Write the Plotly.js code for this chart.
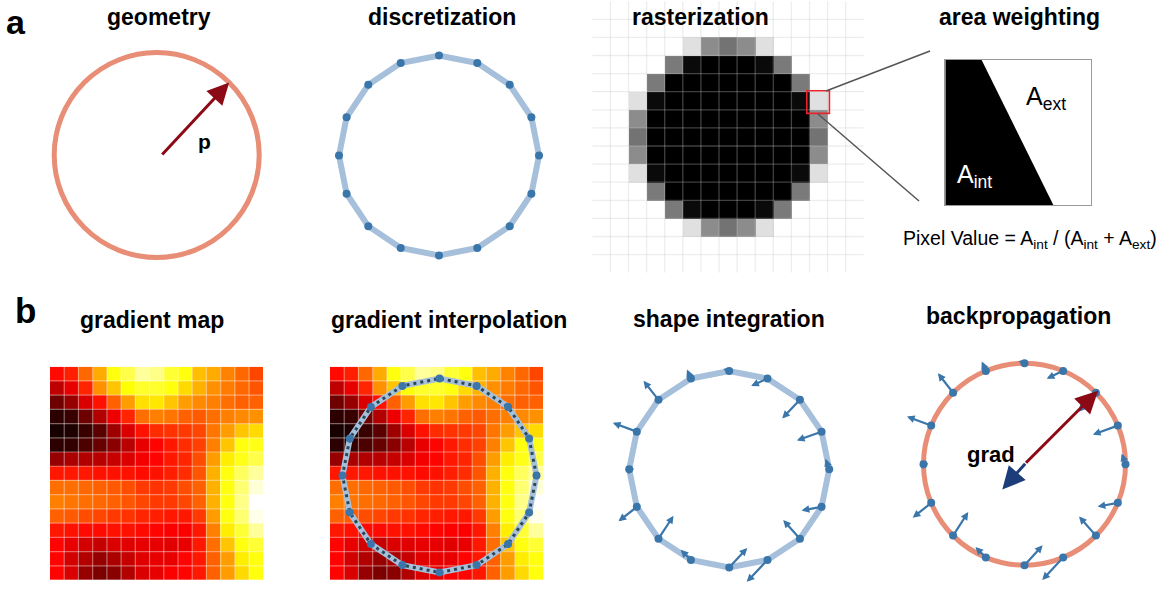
<!DOCTYPE html>
<html><head><meta charset="utf-8">
<script src="https://cdn.plot.ly/plotly-3.0.1.min.js"></script>
<style>html,body{margin:0;padding:0;background:#fff}#chart{width:1169px;height:592px}</style>
</head><body><div id="chart"></div>
<script>
// ---------------- data ----------------
const vertexAngles = [0, 22.5, 45, 67.5, 90, 112.5, 135, 157.5, 180, 202.5, 225, 247.5, 270, 292.5, 315, 337.5];
// per-vertex gradient vectors (in units of the shape radius)
const gradDX = [-0.037, -0.247, -0.177, -0.163, -0.06, -0.04, -0.15, -0.24, -0.033, -0.183, 0.15, -0.103, 0.18, -0.207, -0.167, -0.2];
const gradDY = [0.107, -0.09, -0.19, -0.077, 0.023, 0.093, 0.193, 0.09, 0.033, -0.147, 0.233, 0.103, 0.197, -0.223, 0.19, -0.037];
const paramAngle = 45;      // direction of the radius parameter p
const paramLength = 1.0;
const gradParamX = -0.22, gradParamY = -0.25;   // resulting gradient on p

// pixel coverage of the rasterized disc (0 = empty, 1 = fully covered)
const rasterCoverage = [
  [0,0,0,0,0,0,0,0,0,0,0,0,0,0,0],
  [0,0,0,0,0,0,0,0,0,0,0,0,0,0,0],
  [0,0,0,0,0,0.12,0.45,0.55,0.45,0.12,0,0,0,0,0],
  [0,0,0,0,0.52,0.96,1,1,1,0.96,0.52,0,0,0,0],
  [0,0,0,0.52,1,1,1,1,1,1,1,0.52,0,0,0],
  [0,0,0.12,0.96,1,1,1,1,1,1,1,0.96,0.12,0,0],
  [0,0,0.45,1,1,1,1,1,1,1,1,1,0.45,0,0],
  [0,0,0.55,1,1,1,1,1,1,1,1,1,0.55,0,0],
  [0,0,0.45,1,1,1,1,1,1,1,1,1,0.45,0,0],
  [0,0,0.12,0.96,1,1,1,1,1,1,1,0.96,0.12,0,0],
  [0,0,0,0.52,1,1,1,1,1,1,1,0.52,0,0,0],
  [0,0,0,0,0.52,0.96,1,1,1,0.96,0.52,0,0,0,0],
  [0,0,0,0,0,0.12,0.45,0.55,0.45,0.12,0,0,0,0,0],
  [0,0,0,0,0,0,0,0,0,0,0,0,0,0,0],
  [0,0,0,0,0,0,0,0,0,0,0,0,0,0,0]
];
const highlightRow = 5, highlightCol = 12;

// gradient map values (hot colormap, 0..1)
const gradientMap = [
  [0.38,0.41,0.52,0.62,0.76,0.82,0.90,0.88,0.80,0.76,0.65,0.62,0.56,0.52,0.47],
  [0.27,0.33,0.42,0.58,0.66,0.75,0.79,0.79,0.76,0.69,0.63,0.58,0.55,0.52,0.49],
  [0.15,0.21,0.31,0.39,0.51,0.60,0.70,0.71,0.66,0.60,0.57,0.555,0.53,0.51,0.51],
  [0.05,0.07,0.15,0.25,0.34,0.42,0.53,0.555,0.54,0.51,0.50,0.53,0.555,0.57,0.58],
  [0.02,0.03,0.07,0.12,0.22,0.31,0.39,0.43,0.44,0.45,0.47,0.54,0.60,0.66,0.69],
  [0.05,0.06,0.10,0.14,0.19,0.26,0.33,0.37,0.40,0.43,0.46,0.555,0.66,0.76,0.77],
  [0.21,0.24,0.25,0.26,0.28,0.31,0.35,0.37,0.40,0.42,0.48,0.60,0.72,0.77,0.82],
  [0.40,0.40,0.40,0.39,0.39,0.39,0.38,0.39,0.41,0.43,0.49,0.63,0.76,0.84,0.90],
  [0.53,0.53,0.52,0.51,0.50,0.48,0.45,0.44,0.45,0.48,0.51,0.63,0.76,0.86,0.96],
  [0.555,0.54,0.53,0.52,0.51,0.49,0.47,0.45,0.45,0.47,0.51,0.63,0.76,0.88,1.0],
  [0.51,0.50,0.48,0.47,0.45,0.44,0.42,0.41,0.40,0.40,0.45,0.60,0.76,0.86,0.98],
  [0.40,0.39,0.38,0.38,0.39,0.39,0.38,0.37,0.36,0.36,0.40,0.555,0.72,0.80,0.90],
  [0.37,0.33,0.30,0.28,0.31,0.32,0.33,0.33,0.32,0.33,0.40,0.53,0.66,0.76,0.80],
  [0.37,0.30,0.25,0.21,0.24,0.28,0.32,0.33,0.33,0.37,0.40,0.51,0.60,0.72,0.76],
  [0.37,0.31,0.21,0.17,0.19,0.25,0.31,0.33,0.36,0.37,0.40,0.51,0.60,0.69,0.76]
];

// area-weighting pixel: interior polygon (fraction of pixel)
const areaPolyX = [0, 0.25, 0.743, 0];
const areaPolyY = [1, 1, 0, 0];

const panelTitles = ['geometry', 'discretization', 'rasterization', 'area weighting',
                     'gradient map', 'gradient interpolation', 'shape integration', 'backpropagation'];

// ---------------- layout helpers ----------------
const W = 1169, H = 592;
const xdom = (a, b) => [a / W, b / W];
const ydom = (a, b) => [1 - b / H, 1 - a / H];
const px = x => x / W, py = y => 1 - y / H;
const FONT = 'Liberation Sans, Arial, Helvetica, sans-serif';

const salmon = 'rgb(232,142,118)';
const polyLine = 'rgb(166,191,219)';
const vertexBlue = 'rgb(58,118,170)';
const darkRed = 'rgb(139,10,22)';
const navy = 'rgb(28,61,122)';

const P = {
  geom:   {cx: 156.7, cy: 155,   R: 102.5, k: 1.25},
  disc:   {cx: 439,   cy: 155.5, R: 100,   k: 1.25},
  interp: {cx: 439.5, cy: 475.5, R: 97,    k: 1.1},
  shape:  {cx: 729.2, cy: 471.5, R: 100,   k: 1.25},
  back:   {cx: 1024.5,cy: 464.2, R: 101,   k: 1.25}
};
function circAxes(p) {
  return [
    {domain: xdom(p.cx - p.k * p.R, p.cx + p.k * p.R), range: [-p.k, p.k]},
    {domain: ydom(p.cy - p.k * p.R, p.cy + p.k * p.R), range: [-p.k, p.k]}
  ];
}
const hidden = {visible: false, fixedrange: true, showgrid: false, zeroline: false};

const rad = a => a * Math.PI / 180;
const vx = vertexAngles.map(a => Math.cos(rad(a)));
const vy = vertexAngles.map(a => Math.sin(rad(a)));
const cx = vx.concat([vx[0]]), cy = vy.concat([vy[0]]);

const hotScale = [[0, 'rgb(10,0,0)'], [0.365, 'rgb(255,0,0)'], [0.746, 'rgb(255,255,0)'], [1, 'rgb(255,255,255)']];

function gridLines(nRows, nCols) {
  const gx = [], gy = [];
  for (let i = 0; i < nCols - 1; i++) { gx.push(i + 0.5, i + 0.5, null); gy.push(-0.5, nRows - 0.5, null); }
  for (let j = 0; j < nRows - 1; j++) { gx.push(-0.5, nCols - 0.5, null); gy.push(j + 0.5, j + 0.5, null); }
  return [gx, gy];
}

const traces = [];
// discretization
traces.push({type: 'scatter', mode: 'lines', x: cx, y: cy, xaxis: 'x2', yaxis: 'y2',
  line: {color: polyLine, width: 6}, hoverinfo: 'skip'});
traces.push({type: 'scatter', mode: 'markers', x: vx, y: vy, xaxis: 'x2', yaxis: 'y2',
  marker: {color: vertexBlue, size: 8}, hoverinfo: 'skip'});
// rasterization
const nR = rasterCoverage.length, nC = rasterCoverage[0].length;
traces.push({type: 'heatmap', z: rasterCoverage, xaxis: 'x3', yaxis: 'y3',
  colorscale: [[0, '#ffffff'], [1, '#000000']], zmin: 0, zmax: 1, showscale: false, hoverinfo: 'skip'});
const rg = gridLines(nR, nC);
traces.push({type: 'scatter', mode: 'lines', x: rg[0], y: rg[1], xaxis: 'x3', yaxis: 'y3',
  line: {color: 'rgba(200,200,200,0.32)', width: 1.3}, hoverinfo: 'skip', connectgaps: false});
// area weighting
traces.push({type: 'scatter', mode: 'lines', x: areaPolyX, y: areaPolyY, xaxis: 'x4', yaxis: 'y4',
  fill: 'toself', fillcolor: '#000', line: {width: 0, color: '#000'}, hoverinfo: 'skip'});
// gradient map
const gm = gridLines(gradientMap.length, gradientMap[0].length);
traces.push({type: 'heatmap', z: gradientMap, xaxis: 'x5', yaxis: 'y5', colorscale: hotScale,
  zmin: 0, zmax: 1, showscale: false, hoverinfo: 'skip'});
traces.push({type: 'scatter', mode: 'lines', x: gm[0], y: gm[1], xaxis: 'x5', yaxis: 'y5',
  line: {color: 'rgba(255,255,255,0.4)', width: 1.2}, hoverinfo: 'skip'});
// gradient interpolation
traces.push({type: 'heatmap', z: gradientMap, xaxis: 'x6', yaxis: 'y6', colorscale: hotScale,
  zmin: 0, zmax: 1, showscale: false, hoverinfo: 'skip'});
traces.push({type: 'scatter', mode: 'lines', x: gm[0], y: gm[1], xaxis: 'x6', yaxis: 'y6',
  line: {color: 'rgba(255,255,255,0.4)', width: 1.2}, hoverinfo: 'skip'});
traces.push({type: 'scatter', mode: 'lines', x: cx, y: cy, xaxis: 'x7', yaxis: 'y7',
  line: {color: polyLine, width: 6}, hoverinfo: 'skip'});
traces.push({type: 'scatter', mode: 'lines', x: cx, y: cy, xaxis: 'x7', yaxis: 'y7',
  line: {color: 'rgb(40,72,84)', width: 3, dash: '3px,4px'}, hoverinfo: 'skip'});
traces.push({type: 'scatter', mode: 'markers', x: vx, y: vy, xaxis: 'x7', yaxis: 'y7',
  marker: {color: vertexBlue, size: 8}, hoverinfo: 'skip'});
// shape integration
traces.push({type: 'scatter', mode: 'lines', x: cx, y: cy, xaxis: 'x8', yaxis: 'y8',
  line: {color: polyLine, width: 6}, hoverinfo: 'skip'});
traces.push({type: 'scatter', mode: 'markers', x: vx, y: vy, xaxis: 'x8', yaxis: 'y8',
  marker: {color: vertexBlue, size: 8}, hoverinfo: 'skip'});
// backpropagation
traces.push({type: 'scatter', mode: 'markers', x: vx, y: vy, xaxis: 'x9', yaxis: 'y9',
  marker: {color: vertexBlue, size: 8}, hoverinfo: 'skip'});

// ---------------- annotations ----------------
const ann = [];
const titlePos = [[158.7, 17], [442, 17], [700.8, 17], [1020, 17],
                  [152, 319.5], [448.6, 319.5], [728.7, 318.7], [1018, 315.7]];
panelTitles.forEach((t, i) => ann.push({xref: 'paper', yref: 'paper', x: px(titlePos[i][0]), y: py(titlePos[i][1]),
  xanchor: 'center', yanchor: 'middle', showarrow: false, text: '<b>' + t + '</b>',
  font: {family: FONT, size: 23, color: '#000'}}));
ann.push({xref: 'paper', yref: 'paper', x: px(16), y: py(1), xanchor: 'center', yanchor: 'top',
  showarrow: false, text: '<b>a</b>', font: {family: FONT, size: 34, color: '#000'}});
ann.push({xref: 'paper', yref: 'paper', x: px(25), y: py(310), xanchor: 'center', yanchor: 'middle',
  showarrow: false, text: '<b>b</b>', font: {family: FONT, size: 35, color: '#000'}});

function arrow(axis, x0, y0, x1, y1, color, w, s) {
  return {xref: 'x' + axis, yref: 'y' + axis, axref: 'x' + axis, ayref: 'y' + axis,
    x: x1, y: y1, ax: x0, ay: y0, text: '', showarrow: true, arrowhead: 2,
    arrowsize: s, arrowwidth: w, arrowcolor: color, standoff: 0, startstandoff: 0};
}
// geometry parameter p
const pTipX = paramLength * Math.cos(rad(paramAngle)), pTipY = paramLength * Math.sin(rad(paramAngle));
ann.push(arrow('', 0.04, -0.01, pTipX, pTipY, darkRed, 3, 1.45));
ann.push({xref: 'x', yref: 'y', x: 0.47, y: 0.13, showarrow: false, text: '<b>p</b>',
  font: {family: FONT, size: 21, color: '#000'}});
// gradient vectors on the vertices
['8', '9'].forEach(a => {
  vx.forEach((x, i) => ann.push(arrow(a, x, vy[i], x + gradDX[i], vy[i] + gradDY[i], vertexBlue, 2.2, 0.7)));
});
// backprop gradient on p
ann.push(arrow('9', 0, 0, 1.03 * pTipX, 1.03 * pTipY, darkRed, 3, 1.5));
ann.push(arrow('9', 0.02, 0.02, gradParamX, gradParamY, navy, 3, 1.5));
ann.push({xref: 'x9', yref: 'y9', x: -0.33, y: 0.1, showarrow: false, text: '<b>grad</b>',
  font: {family: FONT, size: 22, color: '#000'}});
// area weighting labels
ann.push({xref: 'x4', yref: 'y4', x: 0.69, y: 0.74, showarrow: false, text: 'A<sub>ext</sub>',
  font: {family: FONT, size: 25, color: '#000'}});
ann.push({xref: 'x4', yref: 'y4', x: 0.2, y: 0.2, showarrow: false, text: 'A<sub>int</sub>',
  font: {family: FONT, size: 25, color: '#fff'}});
ann.push({xref: 'paper', yref: 'paper', x: px(1030), y: py(239), xanchor: 'center', yanchor: 'middle',
  showarrow: false, text: 'Pixel Value = A<sub>int</sub> / (A<sub>int</sub> + A<sub>ext</sub>)',
  font: {family: FONT, size: 19.5, color: '#000'}});

// ---------------- shapes ----------------
const shapes = [
  {type: 'circle', xref: 'x', yref: 'y', x0: -1, x1: 1, y0: -1, y1: 1, layer: 'below',
    line: {color: salmon, width: 5}},
  {type: 'circle', xref: 'x9', yref: 'y9', x0: -1, x1: 1, y0: -1, y1: 1, layer: 'below',
    line: {color: salmon, width: 5}},
  {type: 'rect', xref: 'x3', yref: 'y3', x0: highlightCol - 0.65, x1: highlightCol + 0.6,
    y0: highlightRow - 0.55, y1: highlightRow + 0.7, line: {color: 'rgb(232,36,44)', width: 1.6}},
  {type: 'line', xref: 'paper', yref: 'paper', x0: px(826), y0: py(91), x1: px(930), y1: py(51),
    line: {color: '#555', width: 1.5}},
  {type: 'line', xref: 'paper', yref: 'paper', x0: px(818), y0: py(114), x1: px(919), y1: py(201),
    line: {color: '#555', width: 1.5}}
];

// ---------------- axes ----------------
const layout = {
  width: W, height: H, margin: {l: 0, r: 0, t: 0, b: 0},
  paper_bgcolor: '#fff', plot_bgcolor: 'rgba(0,0,0,0)', showlegend: false,
  annotations: ann, shapes: shapes
};
function setAxes(id, xa, ya) {
  const xs = id === 1 ? 'xaxis' : 'xaxis' + id, ys = id === 1 ? 'yaxis' : 'yaxis' + id;
  const xa2 = Object.assign({}, hidden, xa, {anchor: id === 1 ? 'y' : 'y' + id});
  const ya2 = Object.assign({}, hidden, ya, {anchor: id === 1 ? 'x' : 'x' + id});
  layout[xs] = xa2; layout[ys] = ya2;
}
let a;
a = circAxes(P.geom); setAxes(1, a[0], a[1]);
a = circAxes(P.disc); setAxes(2, a[0], a[1]);
setAxes(3, {domain: xdom(592.3, 863.8), range: [-0.5, nC - 0.5]},
           {domain: ydom(1.2, 272.7), range: [nR - 0.5, -0.5]});
const boxAxis = {visible: true, showline: true, mirror: true, linecolor: '#999', linewidth: 1,
  ticks: '', showticklabels: false, showgrid: false, zeroline: false, range: [0, 1]};
setAxes(4, Object.assign({}, boxAxis, {domain: xdom(945.3, 1090.7)}),
           Object.assign({}, boxAxis, {domain: ydom(60, 205)}));
setAxes(5, {domain: xdom(50, 263.3), range: [-0.5, 14.5]}, {domain: ydom(366.7, 580), range: [14.5, -0.5]});
setAxes(6, {domain: xdom(330, 543.3), range: [-0.5, 14.5]}, {domain: ydom(366.7, 580), range: [14.5, -0.5]});
a = circAxes(P.interp); setAxes(7, a[0], a[1]);
a = circAxes(P.shape); setAxes(8, a[0], a[1]);
a = circAxes(P.back); setAxes(9, a[0], a[1]);

Plotly.newPlot('chart', traces, layout, {staticPlot: true, displayModeBar: false});
</script>
</body></html>
